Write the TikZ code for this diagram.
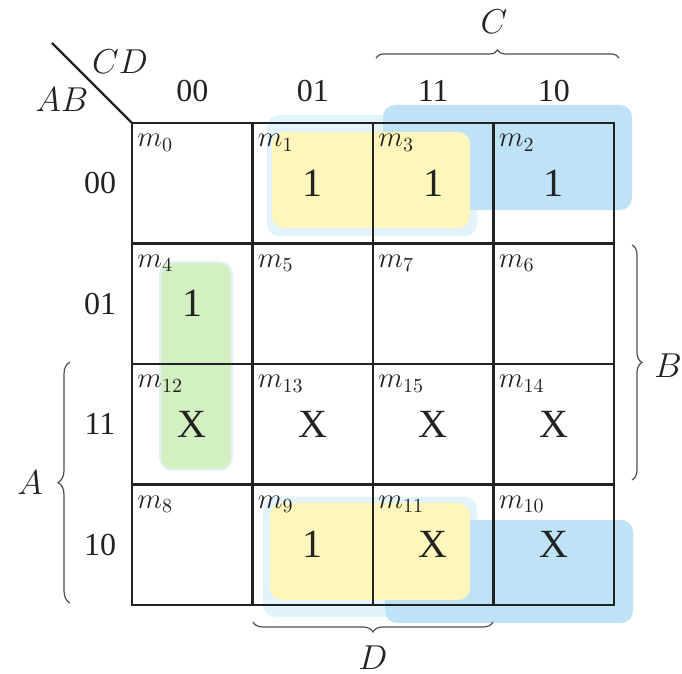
\documentclass[tikz,border=0pt]{standalone}
\usepackage{fontspec}
\setmainfont{Liberation Serif}
\usetikzlibrary{decorations.pathreplacing}
\definecolor{ink}{HTML}{222222}
\definecolor{grpblue}{HTML}{BFE3F6}
\definecolor{grphalo}{HTML}{E3F3FB}
\definecolor{grpyellow}{HTML}{FFF6BC}
\definecolor{grpgreen}{HTML}{D3F0C2}
\tikzset{
  cellline/.style={draw=ink,line width=1.2pt},
  mlab/.style={anchor=north west,inner sep=0pt,font=\fontsize{14}{14}\selectfont,text=ink},
  val/.style={font=\fontsize{20}{20}\selectfont,text=ink},
  hdr/.style={font=\fontsize{16}{16}\selectfont,text=ink},
  var/.style={font=\fontsize{17}{17}\selectfont,text=ink},
  brc/.style={draw=ink!80,line width=.6pt,decorate,decoration={brace,amplitude=#1}},
  grp/.style={rounded corners=6pt},
}
\begin{document}
\begin{tikzpicture}[x=0.5pt,y=-0.5pt]
  \useasboundingbox (0,0) rectangle (682,674);
  % groups
  \fill[grphalo,grp] (267,115) rectangle (477,236);
  \fill[grphalo,grp] (263,497) rectangle (477,617);
  \fill[grpblue,grp] (383,105) rectangle (632,210);
  \fill[grpblue,grp] (385,520) rectangle (633,623);
  \fill[grpyellow,grp] (272,132) rectangle (470,228);
  \fill[grpyellow,grp] (270,503) rectangle (470,600);
  \fill[grpgreen,grp,draw=grphalo,line width=1pt] (160,262) rectangle (232,470);
  % grid
  \coordinate (tl) at (132,123);
  \coordinate (br) at (614,605);
  \foreach \i in {1,2,3}{
    \draw[cellline] (132+120.5*\i,123) -- (132+120.5*\i,605);
    \draw[cellline] (132,123+120.5*\i) -- (614,123+120.5*\i);
  }
  \draw[cellline] (tl) rectangle (br);
  \coordinate (diag) at (52,43);
  \draw[ink,line width=1.1pt] (diag) -- (tl);
  \node[var] (lblCD) at (120,62) {$CD$};
  \node[var] (lblAB) at (62,100) {$AB$};
  % headings
  \foreach \k/\t in {0/00,1/01,2/11,3/10}{
    \node[hdr] (col\t) at (192.25+120.5*\k,91) {\t};
    \node[hdr] (row\t) at (100,183.25+120.5*\k) {\t};
  }
  % minterm labels
  \foreach \r/\ab in {0/0,1/1,2/3,3/2}{
    \foreach \c/\cd in {0/0,1/1,2/3,3/2}{
      \pgfmathtruncatemacro\mi{4*\ab+\cd}
      \node[mlab] (m\mi) at (132+120.5*\c+5,123+120.5*\r+11) {$m_{\mi}$};
    }
  }
  % cell values
  \foreach \mi/\c/\r/\v in {1/1/0/1,3/2/0/1,2/3/0/1,4/0/1/1,12/0/2/X,13/1/2/X,
      15/2/2/X,14/3/2/X,9/1/3/1,11/2/3/X,10/3/3/X}{
    \node[val] (v\mi) at (192.25+120.5*\c,183.25+120.5*\r) {\v};
  }
  % braces
  \draw[brc=4pt] (376,58) -- (619,58);
  \node[var] (lblC) at (494,22) {$C$};
  \draw[brc=5pt] (632,245) -- (632,480);
  \node[var] (lblB) at (668,366) {$B$};
  \draw[brc=6pt] (70,603) -- (70,362);
  \node[var] (lblA) at (30,483) {$A$};
  \draw[brc=5pt] (493,622) -- (253,622);
  \node[var] (lblD) at (373,658) {$D$};
\end{tikzpicture}
\end{document}
